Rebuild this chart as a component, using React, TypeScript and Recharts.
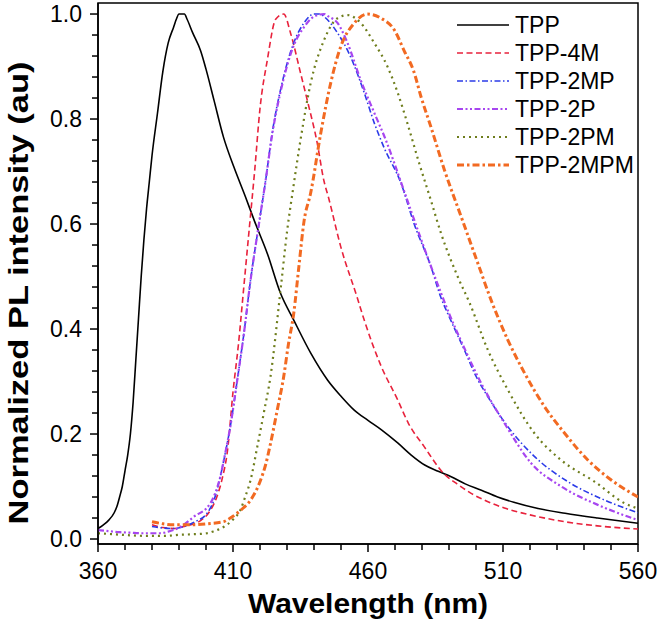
import { Legend, Line, LineChart, ReferenceArea, XAxis, YAxis } from 'recharts';

type Pair = [number, number];

// normalized PL spectra (wavelength nm, intensity)
const tpp: Pair[] = [
  [360, 0.02], [362, 0.027], [364, 0.036], [366, 0.05], [367, 0.062], [368, 0.08], [369, 0.1],
  [370, 0.13], [371, 0.16], [372, 0.2], [373, 0.26], [374, 0.34], [375, 0.42], [376, 0.5],
  [377, 0.57], [378, 0.63], [379, 0.68], [380, 0.73], [382, 0.81], [384, 0.89], [386, 0.945],
  [388, 0.975], [389, 0.99], [390, 1.0], [392, 1.0], [393, 0.99], [395, 0.965], [398, 0.93],
  [400, 0.895], [403, 0.835], [406.5, 0.765], [410.3, 0.709], [414.6, 0.652], [418, 0.605],
  [422.7, 0.544], [427.6, 0.468], [432.5, 0.417], [438.8, 0.354], [445, 0.303], [450, 0.272],
  [455, 0.245], [460, 0.226], [465, 0.208], [471, 0.183], [476, 0.16], [481, 0.141],
  [486, 0.129], [491, 0.118], [496, 0.105], [502, 0.093], [508, 0.08], [514, 0.07],
  [523, 0.058], [533, 0.049], [545, 0.04], [560, 0.03],
];

const tpp4m: Pair[] = [
  [380, 0.027], [384, 0.022], [388, 0.02], [391, 0.023], [395, 0.028], [398, 0.035],
  [401, 0.05], [404, 0.08], [406, 0.115], [408, 0.17], [410, 0.28], [412, 0.37], [414, 0.48],
  [416, 0.59], [418, 0.7], [420, 0.82], [422.7, 0.912], [425.8, 0.99], [428.8, 1.0],
  [431.3, 0.964], [435, 0.888], [437.5, 0.836], [441.2, 0.754], [443.6, 0.684], [445.4, 0.65],
  [449.9, 0.557], [456, 0.46], [458.6, 0.417], [464.8, 0.33], [471, 0.265], [475, 0.22],
  [480.8, 0.176], [488, 0.125], [493, 0.105], [498.2, 0.087], [504, 0.072], [510.5, 0.059],
  [520, 0.046], [532.8, 0.033], [545, 0.025], [560, 0.019],
];

const tpp2mp: Pair[] = [
  [380, 0.024], [384, 0.021], [388, 0.02], [392, 0.024], [396, 0.033], [400.4, 0.049],
  [403, 0.075], [405.3, 0.119], [407, 0.16], [409, 0.214], [411.5, 0.3], [414, 0.39],
  [416.5, 0.493], [419.6, 0.6], [422, 0.68], [424.5, 0.773], [428.2, 0.869], [432.5, 0.945],
  [436.3, 0.983], [440, 1.0], [442, 1.0], [445, 0.989], [448.7, 0.964], [453.6, 0.918],
  [458.6, 0.85], [462.5, 0.79], [466, 0.745], [472.2, 0.678], [477.1, 0.6], [483.3, 0.519],
  [487, 0.46], [490.1, 0.423], [495.7, 0.36], [500, 0.31], [504.4, 0.271], [511.8, 0.214],
  [521.7, 0.157], [534.1, 0.109], [547.7, 0.074], [560, 0.05],
];

const tpp2p: Pair[] = [
  [360, 0.017], [364, 0.015], [368, 0.013], [372, 0.012], [376, 0.011], [380, 0.011],
  [383, 0.011], [386, 0.014], [390.5, 0.023], [395.4, 0.042], [401.6, 0.068], [405.3, 0.119],
  [407, 0.16], [409, 0.214], [411.5, 0.3], [414, 0.39], [416.5, 0.493], [419.6, 0.6],
  [422, 0.68], [424.5, 0.77], [428.2, 0.865], [432.5, 0.94], [436.3, 0.975], [440, 0.995],
  [443.7, 1.0], [445.5, 0.995], [448.7, 0.983], [452.4, 0.945], [457.3, 0.874], [462.3, 0.812],
  [466.6, 0.76], [472.2, 0.68], [478.4, 0.589], [484, 0.51], [490, 0.43], [496, 0.36],
  [501.9, 0.297], [510.6, 0.22], [520.5, 0.144], [531.6, 0.1], [546.5, 0.062], [560, 0.036],
];

const tpp2pm: Pair[] = [
  [360, 0.011], [366, 0.009], [372, 0.007], [378, 0.006], [385, 0.006], [390, 0.008],
  [395, 0.009], [400.4, 0.011], [403, 0.015], [406.5, 0.023], [410, 0.037], [412.7, 0.055],
  [414.5, 0.08], [416.5, 0.112], [419, 0.176], [421.4, 0.24], [423.9, 0.31], [427.6, 0.474],
  [430.1, 0.589], [432.2, 0.665], [435, 0.76], [438.8, 0.869], [443.7, 0.95], [448.7, 0.992],
  [452.4, 0.998], [457.3, 0.983], [462.3, 0.945], [467.2, 0.9], [471, 0.85], [474.7, 0.79],
  [479, 0.715], [483, 0.65], [487, 0.583], [493.2, 0.5], [497.6, 0.45], [504.4, 0.36],
  [511.8, 0.284], [521.7, 0.201], [531.6, 0.15], [544, 0.109], [555.1, 0.068], [560, 0.058],
];

const tpp2mpm: Pair[] = [
  [380, 0.033], [384, 0.029], [388, 0.027], [394, 0.027], [400.4, 0.029], [406.5, 0.033],
  [409, 0.04], [411.5, 0.049], [414, 0.06], [416.5, 0.074], [420.2, 0.112], [422, 0.14],
  [423.9, 0.182], [426.4, 0.246], [428.8, 0.31], [430.5, 0.37], [432.5, 0.43], [434.4, 0.519],
  [436.3, 0.605], [438.8, 0.66], [442.5, 0.773], [446.2, 0.869], [449.9, 0.938], [454.8, 0.982],
  [459.8, 1.0], [464.8, 0.992], [469.7, 0.97], [473.4, 0.93], [477, 0.89], [479.6, 0.843],
  [483.3, 0.785], [488.3, 0.703], [494.5, 0.614], [500.7, 0.525], [505.6, 0.455],
  [511.8, 0.379], [518, 0.316], [525.4, 0.252], [532.9, 0.201], [541.5, 0.15], [550.2, 0.112],
  [560, 0.08],
];

const xTicks = [360, 370, 380, 390, 400, 410, 420, 430, 440, 450, 460, 470, 480, 490, 500, 510, 520, 530, 540, 550, 560];
const xMajor = [360, 410, 460, 510, 560];
const yTicks = [
  0, 0.04, 0.08, 0.12, 0.16, 0.2, 0.24, 0.28, 0.32, 0.36, 0.4, 0.44, 0.48, 0.52, 0.56, 0.6,
  0.64, 0.68, 0.72, 0.76, 0.8, 0.84, 0.88, 0.92, 0.96, 1.0,
];
const yMajor = [0, 0.2, 0.4, 0.6, 0.8, 1.0];

const FONT = '"Liberation Sans", Arial, sans-serif';

const series = [
  { name: 'TPP', data: tpp, color: '#000000', dash: undefined, width: 1.6 },
  { name: 'TPP-4M', data: tpp4m, color: '#e8223c', dash: '6 3.5', width: 1.6 },
  { name: 'TPP-2MP', data: tpp2mp, color: '#2b3be8', dash: '6 2.5 1.5 2.5', width: 1.6 },
  { name: 'TPP-2P', data: tpp2p, color: '#a746f0', dash: '6 2.5 2 2.5 2 2.5', width: 2.2 },
  { name: 'TPP-2PM', data: tpp2pm, color: '#6e7d1c', dash: '2 4', width: 2.2 },
  { name: 'TPP-2MPM', data: tpp2mpm, color: '#f26a22', dash: '7 3 2.5 3', width: 3 },
];

const toPts = (arr: Pair[]) => arr.map(([x, y]) => ({ x, y }));

const isMajor = (list: number[], v: number) => list.some((m) => Math.abs(m - v) < 1e-6);

function XTick({ x, y, payload }: any) {
  const major = isMajor(xMajor, payload.value);
  return (
    <g>
      <line x1={x} x2={x} y1={y} y2={y + (major ? 8 : 6)} stroke="#000" strokeWidth={1.5} />
      {major && (
        <text x={x} y={y + 35} textAnchor="middle" fontSize={23} fontFamily={FONT} fill="#000">
          {payload.value}
        </text>
      )}
    </g>
  );
}

function YTick({ x, y, payload }: any) {
  const major = isMajor(yMajor, payload.value);
  return (
    <g>
      <line x1={x - (major ? 8 : 6)} x2={x} y1={y} y2={y} stroke="#000" strokeWidth={1.5} />
      {major && (
        <text x={x - 16} y={y + 8} textAnchor="end" fontSize={23} fontFamily={FONT} fill="#000">
          {payload.value.toFixed(1)}
        </text>
      )}
    </g>
  );
}

function LegendBox() {
  return (
    <div style={{ fontFamily: FONT, fontSize: 23, color: '#000' }}>
      {series.map((s) => (
        <div key={s.name} style={{ display: 'flex', alignItems: 'center', height: 28 }}>
          <svg width={58} height={10} style={{ display: 'block' }}>
            <line x1={0} x2={52} y1={5} y2={5} stroke={s.color} strokeWidth={s.width} strokeDasharray={s.dash} />
          </svg>
          <span style={{ lineHeight: '28px' }}>{s.name}</span>
        </div>
      ))}
    </div>
  );
}

export default function App() {
  return (
    <div style={{ position: 'absolute', left: 0, top: 0, width: 661, height: 628, background: '#fff' }}>
      <LineChart width={661} height={628} margin={{ top: 3, right: 23, bottom: 24, left: 8 }}>
        <XAxis
          dataKey="x"
          type="number"
          domain={[360, 560]}
          ticks={xTicks}
          interval={0}
          allowDataOverflow
          height={60}
          tickSize={0}
          tickMargin={0}
          tick={<XTick />}
          axisLine={{ stroke: '#000', strokeWidth: 1.5 }}
          label={{
            content: () => (
              <text x={368} y={613} textAnchor="middle" fontSize={28} fontWeight="bold" fontFamily={FONT} textLength={240} lengthAdjust="spacingAndGlyphs">
                Wavelength (nm)
              </text>
            ),
          }}
        />
        <YAxis
          type="number"
          domain={[-0.0095, 1.021]}
          ticks={yTicks}
          interval={0}
          allowDataOverflow
          width={90}
          tickSize={0}
          tickMargin={0}
          tick={<YTick />}
          axisLine={{ stroke: '#000', strokeWidth: 1.5 }}
          label={{
            content: () => (
              <text
                x={28}
                y={293}
                transform="rotate(-90, 28, 293)"
                textAnchor="middle"
                fontSize={28}
                fontWeight="bold"
                fontFamily={FONT}
                textLength={463}
                lengthAdjust="spacingAndGlyphs"
              >
                Normalized PL intensity (au)
              </text>
            ),
          }}
        />
        <ReferenceArea x1={360} x2={560} y1={-0.0095} y2={1.021} fill="none" stroke="#000" strokeWidth={1.5} />
        {series.map((s) => (
          <Line
            key={s.name}
            data={toPts(s.data)}
            dataKey="y"
            name={s.name}
            type="monotone"
            stroke={s.color}
            strokeWidth={s.width}
            strokeDasharray={s.dash}
            dot={false}
            activeDot={false}
            isAnimationActive={false}
          />
        ))}
        <Legend
          layout="vertical"
          align="center"
          verticalAlign="middle"
          wrapperStyle={{ left: 457, top: 11, width: 200, height: 170 }}
          content={() => <LegendBox />}
        />
      </LineChart>
    </div>
  );
}
